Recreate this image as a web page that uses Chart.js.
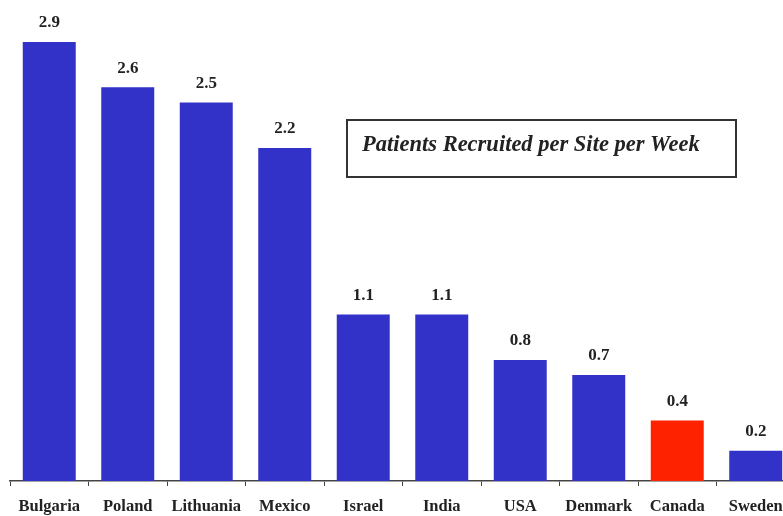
<!DOCTYPE html>
<html>
<head>
<meta charset="utf-8">
<script src="https://cdn.jsdelivr.net/npm/chart.js@4/dist/chart.umd.min.js"></script>
<style>
  html, body { margin: 0; padding: 0; background: #fff; overflow: hidden; }
  #wrap { width: 800px; height: 516px; }
</style>
</head>
<body>
<div id="wrap"><canvas id="rate-chart" width="800" height="516"></canvas></div>
<script>
const countries = ['Bulgaria', 'Poland', 'Lithuania', 'Mexico', 'Israel', 'India', 'USA', 'Denmark', 'Canada', 'Sweden'];
const patientsPerWeek = [2.9, 2.6, 2.5, 2.2, 1.1, 1.1, 0.8, 0.7, 0.4, 0.2];
const highlight = 'Canada';
const boxTitle = 'Patients Recruited per Site per Week';

const SERIF = '"Liberation Serif", "Times New Roman", serif';

// numbers over the bars
const valueLabels = {
  id: 'valueLabels',
  afterDatasetsDraw(chart) {
    const ctx = chart.ctx;
    const meta = chart.getDatasetMeta(0);
    ctx.save();
    ctx.font = 'bold 17px ' + SERIF;
    ctx.fillStyle = '#222';
    ctx.textAlign = 'center';
    ctx.textBaseline = 'middle';
    meta.data.forEach((bar, i) => {
      ctx.fillText(patientsPerWeek[i].toFixed(1), bar.x, bar.y - 19);
    });
    ctx.restore();
  }
};

// boxed caption in the upper right
const captionBox = {
  id: 'captionBox',
  afterDraw(chart) {
    const ctx = chart.ctx;
    ctx.save();
    ctx.strokeStyle = '#333';
    ctx.lineWidth = 2;
    ctx.strokeRect(347, 120, 389, 57);
    ctx.font = 'italic bold 22.5px ' + SERIF;
    ctx.fillStyle = '#222';
    ctx.textBaseline = 'alphabetic';
    ctx.fillText(boxTitle, 362, 151);
    ctx.restore();
  }
};

new Chart(document.getElementById('rate-chart'), {
  type: 'bar',
  data: {
    labels: countries,
    datasets: [{
      data: patientsPerWeek,
      backgroundColor: countries.map(c => c === highlight ? '#ff2200' : '#3232c8'),
      borderWidth: 0,
      categoryPercentage: 1,
      barPercentage: 0.675
    }]
  },
  options: {
    responsive: false,
    animation: false,
    layout: { padding: { left: 10, right: 5, top: 0, bottom: 0 } },
    plugins: { legend: { display: false }, tooltip: { enabled: false } },
    scales: {
      y: {
        display: false,
        min: 0,
        max: 3.177
      },
      x: {
        grid: {
          offset: true,
          drawOnChartArea: false,
          drawTicks: true,
          tickLength: 5,
          color: '#444'
        },
        border: { display: true, color: '#444', width: 1.5 },
        ticks: {
          color: '#222',
          padding: 11,
          maxRotation: 0,
          autoSkip: false,
          font: { family: SERIF, size: 16.5, weight: 'bold' }
        },
        afterFit(scale) { scale.height = 35; }
      }
    }
  },
  plugins: [valueLabels, captionBox]
});
</script>
</body>
</html>
